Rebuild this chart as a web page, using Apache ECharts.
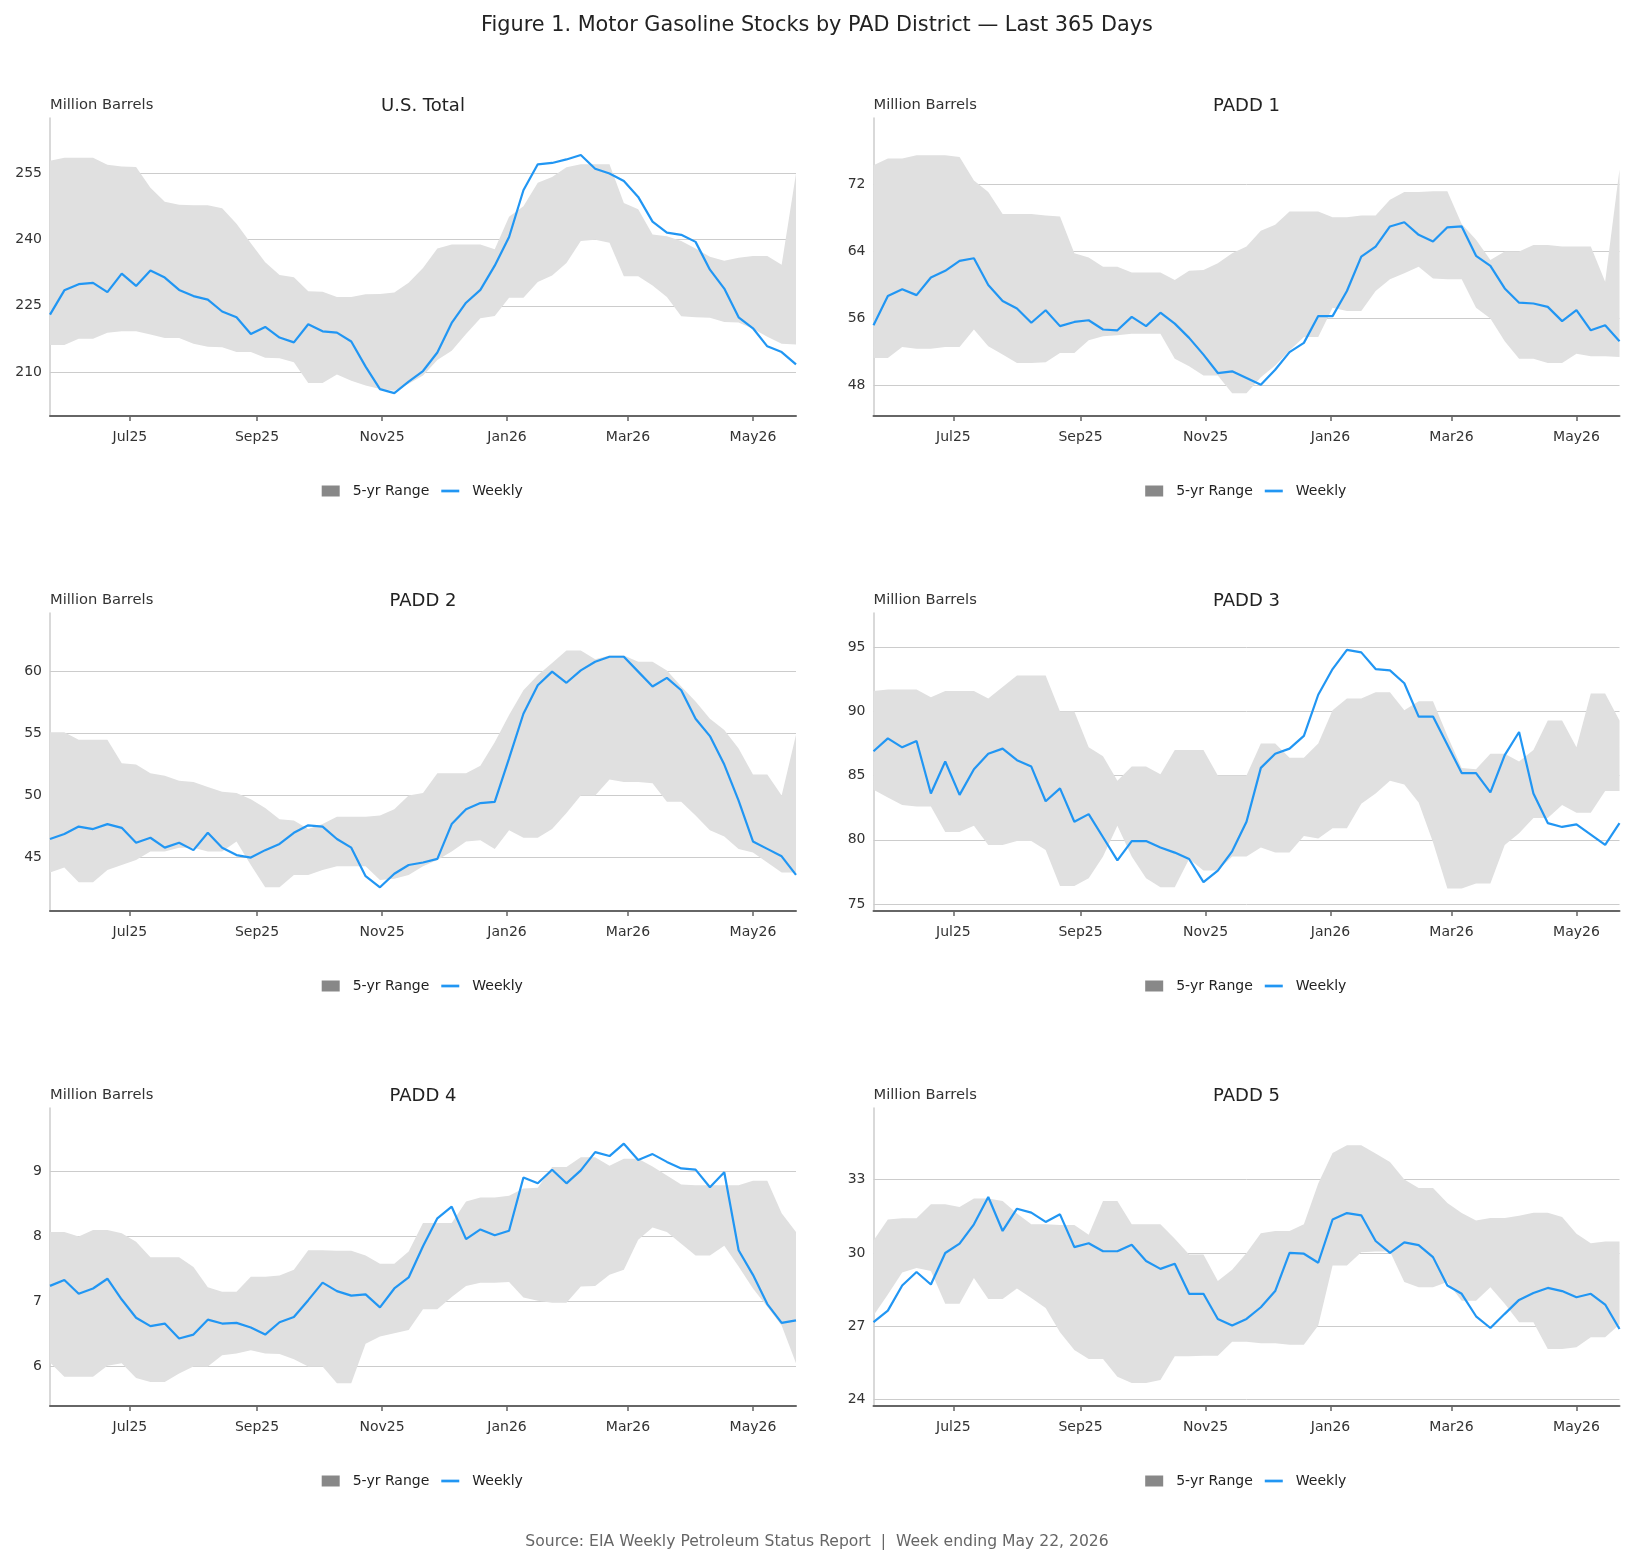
<!DOCTYPE html>
<html><head><meta charset="utf-8">
<script src="https://cdn.jsdelivr.net/npm/echarts@6/dist/echarts.min.js"></script>
<style>html,body{margin:0;padding:0;background:#fff}#c{width:1634px;height:1564px}</style>
</head><body><div id="c"></div>
<script>
// ---------- DATA ----------
const weekDates = ['2025-05-23','2025-05-30','2025-06-06','2025-06-13','2025-06-20','2025-06-27','2025-07-04','2025-07-11','2025-07-18','2025-07-25',
'2025-08-01','2025-08-08','2025-08-15','2025-08-22','2025-08-29','2025-09-05','2025-09-12','2025-09-19','2025-09-26','2025-10-03',
'2025-10-10','2025-10-17','2025-10-24','2025-10-31','2025-11-07','2025-11-14','2025-11-21','2025-11-28','2025-12-05','2025-12-12',
'2025-12-19','2025-12-26','2026-01-02','2026-01-09','2026-01-16','2026-01-23','2026-01-30','2026-02-06','2026-02-13','2026-02-20',
'2026-02-27','2026-03-06','2026-03-13','2026-03-20','2026-03-27','2026-04-03','2026-04-10','2026-04-17','2026-04-24','2026-05-01',
'2026-05-08','2026-05-15','2026-05-22'];
const tickDates = ['2025-07-01','2025-09-01','2025-11-01','2026-01-01','2026-03-01','2026-05-01'];
const tickLabels = ['Jul25','Sep25','Nov25','Jan26','Mar26','May26'];
const panelTitles = ['U.S. Total','PADD 1','PADD 2','PADD 3','PADD 4','PADD 5'];

const usWeekly = [223.0,228.5,229.9,230.2,228.1,232.3,229.5,233.0,231.4,228.6,227.2,226.4,223.7,222.4,218.6,220.2,217.8,216.7,220.8,219.2,218.9,216.9,211.2,206.1,205.2,207.8,210.2,214.4,221.1,225.7,228.6,234.1,240.6,251.2,257.1,257.4,258.2,259.2,256.1,255.0,253.3,249.7,244.1,241.6,241.1,239.5,233.2,228.9,222.4,219.9,215.8,214.5,211.7];
const usHigh = [257.9,258.6,258.6,258.6,257.0,256.6,256.5,251.8,248.6,247.9,247.8,247.8,247.1,243.6,239.2,234.9,232.0,231.5,228.3,228.2,227.0,227.0,227.6,227.7,228.0,230.2,233.6,238.0,238.9,238.9,238.9,237.8,245.2,247.6,252.9,254.2,256.4,257.1,257.1,257.1,248.3,246.9,241.2,240.8,239.7,238.0,236.1,235.2,235.9,236.3,236.3,234.3,255.0];
const usLow = [216.1,216.1,217.5,217.5,218.9,219.2,219.2,218.5,217.7,217.7,216.4,215.7,215.6,214.5,214.5,213.2,213.1,212.2,207.5,207.5,209.4,208.0,206.9,206.1,205.7,207.3,209.2,212.7,214.8,218.6,222.2,222.7,226.8,226.8,230.4,231.9,234.7,239.7,240.0,239.3,231.7,231.7,229.6,227.0,222.6,222.4,222.3,221.3,221.2,219.8,218.0,216.4,216.2];

const p1Weekly = [55.2,58.7,59.5,58.8,60.9,61.7,62.9,63.2,60.0,58.1,57.2,55.5,57.0,55.1,55.6,55.8,54.7,54.6,56.2,55.1,56.7,55.4,53.7,51.7,49.5,49.7,48.9,48.1,49.9,52.0,53.1,56.3,56.3,59.3,63.4,64.6,67.0,67.5,66.0,65.2,66.9,67.0,63.5,62.3,59.6,57.9,57.8,57.4,55.7,57.0,54.6,55.2,53.3];
const p1High = [74.3,75.1,75.1,75.5,75.5,75.5,75.3,72.5,71.1,68.5,68.5,68.5,68.3,68.2,63.8,63.3,62.2,62.2,61.5,61.5,61.5,60.6,61.7,61.8,62.6,63.8,64.6,66.5,67.2,68.8,68.8,68.8,68.1,68.1,68.3,68.3,70.2,71.1,71.1,71.2,71.2,67.3,65.4,63.0,64.0,64.0,64.8,64.8,64.6,64.6,64.6,60.4,73.8];
const p1Low = [51.3,51.3,52.6,52.4,52.4,52.6,52.6,54.7,52.7,51.7,50.7,50.7,50.8,51.9,51.9,53.4,53.9,54.0,54.2,54.2,54.2,51.2,50.3,49.2,49.2,47.1,47.1,49.0,50.4,52.2,53.8,53.8,57.3,56.9,56.9,59.3,60.7,61.4,62.2,60.8,60.7,60.7,57.3,56.0,53.3,51.2,51.2,50.7,50.7,51.8,51.5,51.5,51.4];

const p2Weekly = [46.5,46.9,47.5,47.3,47.7,47.4,46.2,46.6,45.8,46.2,45.6,47.0,45.8,45.2,45.0,45.6,46.1,47.0,47.6,47.5,46.5,45.8,43.5,42.6,43.7,44.4,44.6,44.9,47.7,48.9,49.4,49.5,53.0,56.6,58.9,60.0,59.1,60.1,60.8,61.2,61.2,60.0,58.8,59.5,58.5,56.2,54.8,52.5,49.6,46.3,45.7,45.1,43.6];
const p2High = [55.1,55.1,54.5,54.5,54.5,52.6,52.5,51.8,51.6,51.2,51.1,50.7,50.3,50.2,49.7,49.0,48.1,48.0,47.3,47.7,48.3,48.3,48.3,48.4,48.9,50.0,50.2,51.8,51.8,51.8,52.4,54.3,56.5,58.5,59.7,60.7,61.7,61.7,61.0,61.3,61.3,60.8,60.8,60.1,58.8,57.6,56.2,55.3,53.8,51.7,51.7,50.0,54.9];
const p2Low = [43.8,44.2,43.0,43.0,44.0,44.4,44.8,45.5,45.5,45.8,45.8,45.5,45.5,46.3,44.4,42.6,42.6,43.6,43.6,44.0,44.3,44.3,44.3,43.2,43.3,43.6,44.3,44.8,45.5,46.3,46.4,45.7,47.2,46.6,46.6,47.3,48.6,50.0,50.0,51.3,51.1,51.1,51.0,49.5,49.5,48.4,47.2,46.7,45.7,45.4,44.6,43.8,43.8];

const p3Weekly = [86.9,87.9,87.2,87.7,83.6,86.1,83.5,85.5,86.7,87.1,86.2,85.7,83.0,84.0,81.4,82.0,80.2,78.4,79.9,79.9,79.4,79.0,78.5,76.7,77.6,79.1,81.4,85.6,86.7,87.1,88.1,91.3,93.3,94.8,94.6,93.3,93.2,92.2,89.6,89.6,87.4,85.2,85.2,83.7,86.6,88.4,83.6,81.3,81.0,81.2,80.4,79.6,81.3];
const p3High = [91.6,91.7,91.7,91.7,91.1,91.6,91.6,91.6,91.0,91.9,92.8,92.8,92.8,90.0,90.0,87.2,86.5,84.6,85.7,85.7,85.1,87.0,87.0,87.0,85.0,85.0,85.0,87.5,87.5,86.4,86.4,87.5,90.1,91.0,91.0,91.5,91.5,90.1,90.8,90.8,88.1,85.6,85.5,86.7,86.7,86.1,87.0,89.3,89.3,87.2,91.4,91.4,89.3];
const p3Low = [83.9,83.3,82.7,82.6,82.6,80.6,80.6,81.1,79.6,79.6,79.9,79.9,79.2,76.4,76.4,77.0,78.7,81.1,78.7,77.0,76.3,76.3,78.5,77.6,77.6,78.7,78.7,79.4,79.0,79.0,80.3,80.1,80.9,80.9,82.8,83.6,84.6,84.3,82.9,79.8,76.2,76.2,76.6,76.6,79.6,80.5,81.7,81.7,82.7,82.1,82.1,83.8,83.8];

const p4Weekly = [7.24,7.33,7.12,7.20,7.35,7.03,6.75,6.62,6.66,6.43,6.49,6.72,6.66,6.67,6.60,6.49,6.68,6.76,7.02,7.29,7.16,7.09,7.11,6.91,7.20,7.37,7.85,8.28,8.46,7.96,8.11,8.02,8.09,8.91,8.82,9.03,8.82,9.02,9.30,9.24,9.43,9.18,9.27,9.15,9.05,9.03,8.76,8.99,7.79,7.41,6.96,6.67,6.71];
const p4High = [8.07,8.07,8.00,8.10,8.10,8.05,7.92,7.68,7.68,7.68,7.53,7.22,7.15,7.15,7.38,7.38,7.40,7.49,7.79,7.79,7.78,7.78,7.71,7.58,7.58,7.77,8.21,8.21,8.21,8.54,8.60,8.60,8.63,8.74,8.75,9.07,9.07,9.22,9.22,9.09,9.20,9.20,9.08,8.94,8.80,8.79,8.79,8.79,8.79,8.86,8.86,8.36,8.07];
const p4Low = [6.06,5.84,5.84,5.84,6.01,6.05,5.82,5.76,5.76,5.89,6.00,6.00,6.17,6.20,6.25,6.20,6.19,6.11,6.00,6.00,5.74,5.74,6.35,6.46,6.51,6.56,6.88,6.88,7.07,7.24,7.29,7.29,7.30,7.06,7.01,6.98,6.98,7.23,7.24,7.41,7.49,7.95,8.14,8.07,7.89,7.71,7.71,7.86,7.54,7.20,6.92,6.63,6.05];

const p5Weekly = [27.17,27.64,28.67,29.22,28.71,30.00,30.38,31.17,32.29,30.90,31.81,31.65,31.27,31.58,30.24,30.40,30.07,30.07,30.34,29.67,29.35,29.56,28.33,28.33,27.30,27.03,27.30,27.78,28.44,30.00,29.97,29.60,31.37,31.63,31.54,30.49,30.00,30.43,30.32,29.83,28.67,28.33,27.41,26.93,27.51,28.08,28.36,28.57,28.44,28.19,28.33,27.89,26.89];
const p5High = [30.51,31.37,31.42,31.42,31.99,31.99,31.88,32.23,32.23,32.13,31.61,31.17,31.17,31.14,31.14,30.75,32.13,32.13,31.17,31.17,31.17,30.58,29.94,29.94,28.85,29.31,30.00,30.81,30.90,30.90,31.17,32.84,34.09,34.41,34.41,34.07,33.72,33.01,32.66,32.66,32.04,31.63,31.33,31.43,31.43,31.52,31.65,31.65,31.47,30.79,30.40,30.47,30.47];
const p5Low = [27.44,28.30,29.20,29.39,29.26,27.92,27.92,28.98,28.12,28.12,28.55,28.16,27.75,26.76,26.03,25.66,25.66,24.94,24.68,24.68,24.80,25.77,25.77,25.80,25.80,26.37,26.37,26.31,26.31,26.25,26.25,27.03,29.49,29.49,30.03,30.06,30.06,28.81,28.60,28.60,28.81,28.05,28.05,28.60,27.92,27.17,27.17,26.07,26.07,26.14,26.55,26.55,27.07];

const usTicks = [210,225,240,255], p1Ticks = [48,56,64,72], p2Ticks = [45,50,55,60],
      p3Ticks = [75,80,85,90,95], p4Ticks = [6,7,8,9], p5Ticks = [24,27,30,33];
const usRange = [200,267.6], p1Range = [44.37,79.95], p2Range = [40.69,64.73],
      p3Range = [74.45,97.67], p4Range = [5.39,9.98], p5Range = [23.74,35.93];

const mainTitle = 'Figure 1. Motor Gasoline Stocks by PAD District \u2014 Last 365 Days';
const sourceText = 'Source: EIA Weekly Petroleum Status Report  |  Week ending May 22, 2026';
const yName = 'Million Barrels';

// ---------- BUILD ----------
const FONT = 'DejaVu Sans';
const ts = s => { const p = s.split('-').map(Number); return Date.UTC(p[0], p[1]-1, p[2]); };
const xs = weekDates.map(ts);
const tickTs = tickDates.map(ts);

const panels = [
  {w: usWeekly, h: usHigh, l: usLow, t: usTicks, r: usRange},
  {w: p1Weekly, h: p1High, l: p1Low, t: p1Ticks, r: p1Range},
  {w: p2Weekly, h: p2High, l: p2Low, t: p2Ticks, r: p2Range},
  {w: p3Weekly, h: p3High, l: p3Low, t: p3Ticks, r: p3Range},
  {w: p4Weekly, h: p4High, l: p4Low, t: p4Ticks, r: p4Range},
  {w: p5Weekly, h: p5High, l: p5Low, t: p5Ticks, r: p5Range}
];

const colLeft = [50, 873.5], rowTop = [118, 613, 1108], GW = 746, GH = 298;
const grid = [], xAxis = [], yAxis = [], series = [], legend = [];
const title = [
  {text: mainTitle, left: 817, top: 15, textAlign: 'center', padding: 0,
   textStyle: {fontFamily: FONT, fontSize: 20.8, fontWeight: 'normal', color: '#222'}},
  {text: sourceText, left: 817, top: 1534, textAlign: 'center', padding: 0,
   textStyle: {fontFamily: FONT, fontSize: 15.6, fontWeight: 'normal', color: '#666'}}
];

panels.forEach((p, k) => {
  const L = colLeft[k % 2], T = rowTop[Math.floor(k / 2)];
  grid.push({left: L, top: T, width: GW, height: GH, containLabel: false, outerBoundsMode: 'none'});
  title.push({text: panelTitles[k], left: L + GW / 2, top: T - 21, textAlign: 'center', padding: 0,
    textStyle: {fontFamily: FONT, fontSize: 18, fontWeight: 'normal', color: '#222'}});
  // time axis used by the series (hidden)
  xAxis.push({
    type: 'time', gridIndex: k, position: 'top', min: xs[0], max: xs[xs.length - 1], show: false,
    axisLine: {show: false}, axisTick: {show: false}, axisLabel: {show: false}, splitLine: {show: false}
  });
  // visible axis with month ticks on the same extent
  xAxis.push({
    type: 'value', gridIndex: k, position: 'bottom', min: xs[0], max: xs[xs.length - 1], scale: true,
    axisLine: {show: true, onZero: false, lineStyle: {color: '#666', width: 2}},
    axisTick: {show: true, length: 5, lineStyle: {color: '#666', width: 1.5}, customValues: tickTs},
    axisLabel: {show: true, customValues: tickTs, margin: 14, fontFamily: FONT, fontSize: 14, color: '#333',
      formatter: v => { const i = tickTs.indexOf(v); return i >= 0 ? tickLabels[i] : ''; }},
    splitLine: {show: false}
  });
  yAxis.push({
    type: 'value', gridIndex: k, min: p.r[0], max: p.r[1], scale: true,
    name: yName, nameLocation: 'end', nameGap: 13,
    nameTextStyle: {fontFamily: FONT, fontSize: 14.7, color: '#333', align: 'left', verticalAlign: 'middle'},
    axisLine: {show: true, lineStyle: {color: '#ccc', width: 1.5}},
    axisTick: {show: false, customValues: p.t},
    axisLabel: {show: true, customValues: p.t, margin: 8, fontFamily: FONT, fontSize: 14, color: '#333'},
    splitLine: {show: true, lineStyle: {color: '#ccc', width: 1}}
  });
  const xi = 2 * k, stack = 'band' + k;
  series.push({
    name: 'low', type: 'line', xAxisIndex: xi, yAxisIndex: k, stack: stack, symbol: 'none', silent: true,
    lineStyle: {width: 0, opacity: 0}, data: xs.map((x, i) => [x, p.l[i]]), z: 2
  });
  series.push({
    name: '5-yr Range', type: 'line', xAxisIndex: xi, yAxisIndex: k, stack: stack, symbol: 'none', silent: true,
    color: '#888', lineStyle: {width: 0}, areaStyle: {color: '#e0e0e0', opacity: 1},
    data: xs.map((x, i) => [x, +(p.h[i] - p.l[i]).toFixed(3)]), z: 2
  });
  series.push({
    name: 'Weekly', type: 'line', xAxisIndex: xi, yAxisIndex: k, symbol: 'none', silent: true,
    color: '#2196f3', lineStyle: {width: 2.2, color: '#2196f3'},
    data: xs.map((x, i) => [x, p.w[i]]), z: 3
  });
  legend.push({
    left: L + 271.7, top: T + 366, padding: 0, itemWidth: 18, itemHeight: 11, itemGap: 12,
    selectedMode: false,
    textStyle: {fontFamily: FONT, fontSize: 14, color: '#222', padding: [0, 0, 0, 8]},
    data: [
      {name: '5-yr Range', icon: 'rect', itemStyle: {color: '#888'}},
      {name: 'Weekly', icon: 'path://M0,0H20V3H0Z', itemStyle: {color: '#2196f3'}}
    ]
  });
});

const chart = echarts.init(document.getElementById('c'), null, {renderer: 'canvas'});
chart.setOption({
  animation: false, backgroundColor: '#fff',
  textStyle: {fontFamily: FONT},
  title, grid, xAxis, yAxis, series, legend
});
</script></body></html>
